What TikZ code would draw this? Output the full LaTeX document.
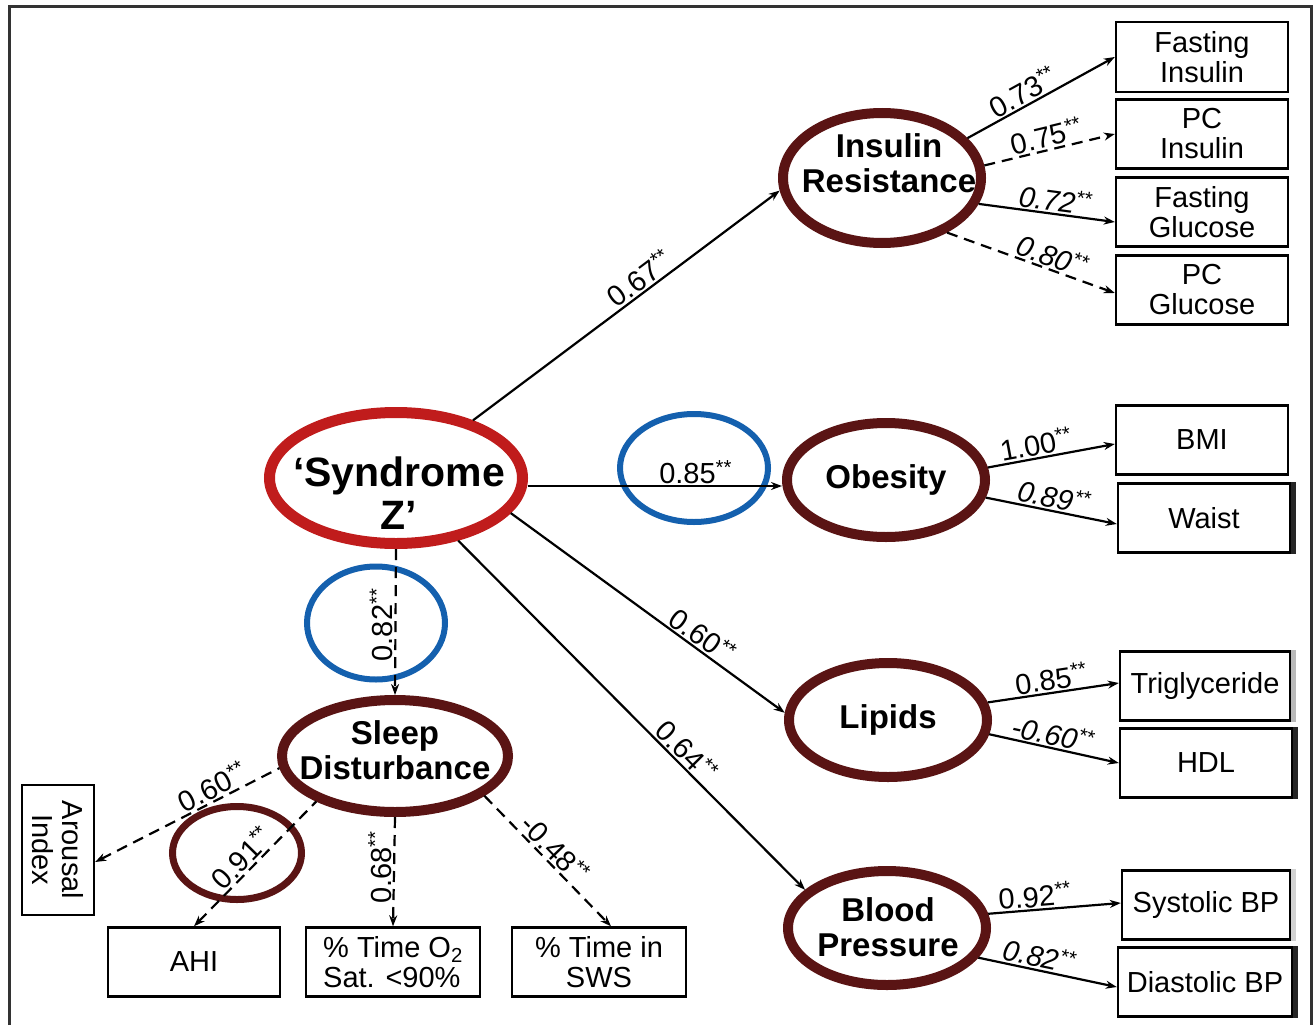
\documentclass[tikz,border=0pt]{standalone}
\usepackage{fontspec}
\setmainfont{Liberation Sans}
\usetikzlibrary{shapes.geometric,arrows.meta}
\definecolor{szred}{HTML}{C01C1C}
\definecolor{lvred}{HTML}{5A1414}
\definecolor{hlblue}{HTML}{1460AE}
\newcommand\sig{\textsuperscript{**}}
\begin{document}
\begin{tikzpicture}[x=1pt,y=-1pt,
  box/.style={draw, line width=2.4pt, minimum width=172pt, minimum height=69pt, inner sep=2pt, align=center, font=\fontsize{29}{30}\selectfont},
  lat/.style={ellipse, draw=lvred, line width=10pt, inner sep=0pt},
  lattext/.style={font=\fontsize{33}{35}\selectfont\bfseries, align=center, inner sep=0pt},
  hl/.style={ellipse, draw=hlblue, line width=6pt, inner sep=0pt},
  conn/.style={line width=2.2pt, -{Stealth[length=11pt,width=8pt]}},
  rconn/.style={line width=2.2pt, {Stealth[length=11pt,width=8pt]}-},
  dconn/.style={conn, dash pattern=on 11pt off 7pt},
  rdconn/.style={rconn, dash pattern=on 11pt off 7pt},
  labfont/.style={font=\fontsize{29}{30}\selectfont, inner sep=1.5pt},
  lab/.style={labfont, sloped, above},
  labi/.style={lab, font=\fontsize{29}{30}\selectfont\itshape}
]
\useasboundingbox (0,0) rectangle (1316,1025);
\fill[white] (0,0) rectangle (1316,1025);
\draw[line width=3pt, black!80] (9,1025) -- (9,7) -- (1311,7) -- (1311,1025);

% latent ellipses
\node[lat, draw=szred, line width=11pt, minimum width=253pt, minimum height=131pt] (SZ) at (396,478) {};
\node[lat, minimum width=198pt, minimum height=130pt] (IR) at (882,178) {};
\node[lat, minimum width=198pt, minimum height=114pt] (Ob) at (886,480) {};
\node[lat, minimum width=198pt, minimum height=114pt] (Lip) at (888,720) {};
\node[lat, minimum width=198pt, minimum height=114pt] (BP) at (887,928) {};
\node[lat, minimum width=226pt, minimum height=112pt] (SD) at (395,756) {};

% highlight ellipses
\node[hl, minimum width=148pt, minimum height=108pt] (H1) at (694,468) {};
\node[hl, minimum width=138pt, minimum height=113pt] (H2) at (376,623) {};
\node[lat, line width=7pt, minimum width=129pt, minimum height=93pt] (H3) at (237,853) {};

% observed boxes
\node[box, minimum height=70pt] (FI) at (1202,57) {Fasting\\Insulin};
\node[box] (PCI) at (1202,134) {PC\\Insulin};
\node[box] (FG) at (1202,212) {Fasting\\Glucose};
\node[box] (PCG) at (1202,290) {PC\\Glucose};
\node[box] (BMI) at (1202,440) {BMI};
\node[box] (Wa) at (1204,518) {Waist};
\node[box, minimum width=170pt] (Tr) at (1205,686) {Triglyceride};
\node[box] (HDL) at (1206,763) {HDL};
\node[box, minimum width=168pt] (Sys) at (1206,905) {Systolic BP};
\node[box, minimum width=174pt, inner sep=0pt] (Dia) at (1205,982) {Diastolic BP};
\node[box, rotate=-90, minimum width=130pt, minimum height=72pt] (Ar) at (58,850) {Arousal\\Index};
\node[box] (AHI) at (194,962) {AHI};
\node[box, minimum width=174pt, align=left] (O2) at (393,962) {\% Time O\textsubscript{2}\\Sat. <90\%};
\node[box, minimum width=174pt] (SWS) at (599,962) {\% Time in\\SWS};

% right-edge bars
\fill[black!85] (Wa.north east) rectangle ([xshift=5pt]Wa.south east);
\fill[gray!55] (Tr.north east) rectangle ([xshift=5pt]Tr.south east);
\fill[black!85] (HDL.north east) rectangle ([xshift=5pt]HDL.south east);
\fill[gray!35] (Sys.north east) rectangle ([xshift=5pt]Sys.south east);
\fill[black!85] (Dia.north east) rectangle ([xshift=5pt]Dia.south east);

% structural paths
\draw[conn] (SZ) -- node[lab, pos=0.57] (l1) {0.67\sig} (IR.187);
\coordinate (obin) at ([yshift=-6pt]Ob.west);
\draw[conn] (SZ.east |- obin) -- node[labfont, above, pos=0.66] (l2) {0.85\sig} (obin);
\draw[conn] (SZ.-17) -- node[lab, pos=0.67] (l3) {0.60\sig} (Lip.176);
\draw[conn] (SZ) -- node[lab, pos=0.63] (l4) {0.64\sig} (BP.155);
\draw[dconn] (SZ.south) -- node[labfont, rotate=90, anchor=south, pos=0.52] (l5) {0.82\sig} (SD.north);

% insulin resistance indicators
\draw[conn] (IR.25) -- node[lab, pos=0.42] (l6) {0.73\sig} (FI.west);
\draw[dconn] (IR.7) -- node[lab, pos=0.5] (l7) {0.75\sig} (PCI.west);
\draw[conn] (IR.-15) -- node[labi, pos=0.55] (l8) {0.72\sig} ([yshift=-10pt]FG.west);
\draw[dconn] (IR.-40) -- node[labi, pos=0.6] (l9) {0.80\sig} ([yshift=-3pt]PCG.west);

% obesity
\draw[conn] (Ob.7) -- node[lab, pos=0.4] (l10) {1.00\sig} ([yshift=-4pt]BMI.west);
\draw[conn] (Ob.-10) -- node[labi, pos=0.5] (l11) {0.89\sig} ([yshift=-6pt]Wa.west);

% lipids
\draw[conn] (Lip.10) -- node[lab, pos=0.5] (l12) {0.85\sig} ([yshift=3pt]Tr.west);
\draw[conn] (Lip.-8) -- node[labi, pos=0.47] (l13) {-0.60\sig} (HDL.west);

% blood pressure
\draw[conn] (BP.8) -- node[lab, pos=0.36] (l14) {0.92\sig} ([yshift=2pt]Sys.west);
\draw[conn] (BP.-18) -- node[labi, pos=0.42] (l15) {0.82\sig} ([yshift=-5pt]Dia.west);

% sleep disturbance
\draw[rdconn] ([yshift=-12pt]Ar.north) -- node[lab, pos=0.67] (l16) {0.60\sig} (SD.186);
\draw[rdconn] (AHI.north) -- node[lab, pos=0.47] (l17) {0.91\sig} (SD.210);
\draw[dconn] (SD.south) -- node[labfont, rotate=90, anchor=south, pos=0.46] (l18) {0.68\sig} (O2.north);
\draw[dconn] (SD.-24) -- node[lab, pos=0.48] (l19) {-0.48\sig} ([xshift=12pt]SWS.north);

% latent labels
\node[font=\fontsize{41}{43}\selectfont\bfseries, align=center, inner sep=0pt] (SZt) at (399,493) {‘Syndrome\\Z’};
\node[lattext] (IRt) at (889,163) {Insulin\\Resistance};
\node[lattext] (Obt) at (886,480) {Obesity};
\node[lattext] (Lipt) at (888,720) {Lipids};
\node[lattext] (BPt) at (888,927) {Blood\\Pressure};
\node[lattext] (SDt) at (395,750) {Sleep\\Disturbance};
\end{tikzpicture}
\end{document}
